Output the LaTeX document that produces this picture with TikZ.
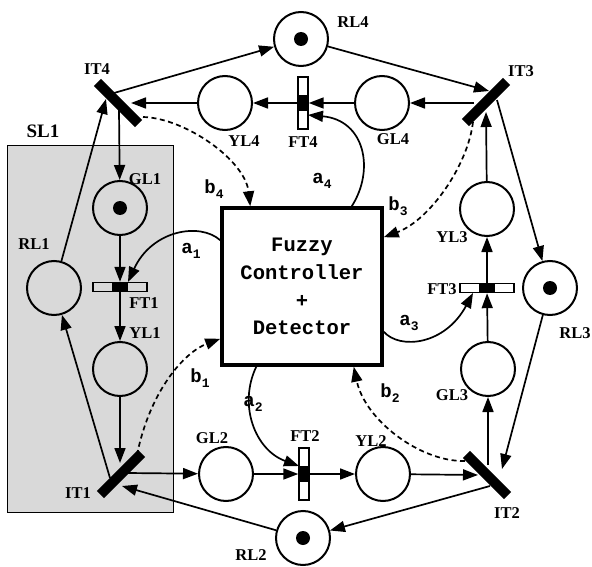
\documentclass[tikz,border=0pt]{standalone}
\usepackage{fontspec}
\setmainfont{Liberation Serif}
\newfontfamily\monofam{Liberation Mono}
\usetikzlibrary{arrows.meta,calc}
\newcommand\subl[1]{\raisebox{-5pt}{\fontsize{13}{13}\selectfont #1}}
\begin{document}
\begin{tikzpicture}[x=1pt,y=-1pt,
  place/.style={circle,draw,line width=2pt,minimum size=54pt,inner sep=0pt},
  itbar/.style={rectangle,fill=black,minimum width=58pt,minimum height=10pt,inner sep=0pt},
  fth/.style={rectangle,draw,line width=1.4pt,minimum width=54pt,minimum height=9pt,inner sep=0pt,
    path picture={\fill (path picture bounding box.center) ++(-8pt,-6pt) rectangle ++(16pt,12pt);}},
  ftv/.style={rectangle,draw,line width=1.4pt,minimum width=10pt,minimum height=52pt,inner sep=0pt,
    path picture={\fill (path picture bounding box.center) ++(-6pt,-8pt) rectangle ++(12pt,16pt);}},
  ctrl/.style={rectangle,draw,line width=3.5pt,minimum width=160pt,minimum height=157pt,align=center,
    font=\monofam\bfseries\fontsize{20.5}{27.7}\selectfont},
  lab/.style={font=\bfseries\fontsize{16.5}{17}\selectfont,inner sep=0pt},
  ab/.style={font=\monofam\bfseries\fontsize{19}{19}\selectfont,inner sep=0pt},
  arr/.style={line width=1.7pt,-{Triangle[length=15pt,width=11pt]}},
  darr/.style={arr,dash pattern=on 5pt off 3.5pt},
  tok/.style={fill=black}
]
\useasboundingbox (0,0) rectangle (592,567);
% shaded subsystem
\draw[fill=black!15,line width=1pt] (7,146) rectangle (173,512);
\node[lab,font=\bfseries\fontsize{19}{19}\selectfont] (lSL1) at (43,131) {SL1};

% places
\node[place] (RL4) at (301,39) {};
\node[place] (YL4) at (225,103) {};
\node[place] (GL4) at (382,103) {};
\node[place] (GL1) at (120,208) {};
\node[place] (RL1) at (54,288) {};
\node[place] (YL1) at (120,369) {};
\node[place] (GL2) at (226,474) {};
\node[place] (YL2) at (383,474) {};
\node[place] (RL2) at (303,538) {};
\node[place] (GL3) at (488,369) {};
\node[place] (YL3) at (487,209) {};
\node[place] (RL3) at (550,288) {};
\foreach \p in {RL4,GL1,RL2,RL3} \fill (\p) circle (7);

% transitions
\node[itbar,rotate=-45] (IT4) at (118,103) {};
\node[itbar,rotate=45] (IT3) at (486,102) {};
\node[itbar,rotate=-45] (IT2) at (487,475) {};
\node[itbar,rotate=45] (IT1) at (121,474) {};
\node[ftv] (FT4) at (303,103) {};
\node[fth] (FT1) at (120,287) {};
\node[fth] (FT3) at (487,288) {};
\node[ftv] (FT2) at (304,474) {};

% controller
\node[ctrl] (ctrl) at (302,286.5) {Fuzzy\\Controller\\+\\Detector};

% labels
\node[lab] (lIT4) at (97,69) {IT4};
\node[lab] (lRL4) at (353,22) {RL4};
\node[lab] (lIT3) at (521,71) {IT3};
\node[lab] (lYL4) at (244,141) {YL4};
\node[lab] (lFT4) at (303,142) {FT4};
\node[lab] (lGL4) at (393,139) {GL4};
\node[lab] (lGL1) at (145,179) {GL1};
\node[lab] (lRL1) at (34,244) {RL1};
\node[lab] (lFT1) at (144,303) {FT1};
\node[lab] (lYL1) at (145,333) {YL1};
\node[lab] (lYL3) at (452,237) {YL3};
\node[lab] (lFT3) at (442,289) {FT3};
\node[lab] (lRL3) at (575,333) {RL3};
\node[lab] (lGL3) at (452,395) {GL3};
\node[lab] (lGL2) at (212,438) {GL2};
\node[lab] (lFT2) at (305,436) {FT2};
\node[lab] (lYL2) at (371,441) {YL2};
\node[lab] (lIT2) at (507,513) {IT2};
\node[lab] (lIT1) at (78,493) {IT1};
\node[lab] (lRL2) at (251,555) {RL2};

\node[ab] (la4) at (322,181) {a\subl{4}};
\node[ab] (lb4) at (214,189) {b\subl{4}};
\node[ab] (lb3) at (398,206) {b\subl{3}};
\node[ab] (la1) at (191,251) {a\subl{1}};
\node[ab] (la3) at (409,323) {a\subl{3}};
\node[ab] (lb1) at (200,378) {b\subl{1}};
\node[ab] (la2) at (253,404) {a\subl{2}};
\node[ab] (lb2) at (390,393) {b\subl{2}};

% net arcs
\draw[arr] ($(IT4)+(-4,-10)$) -- (RL4);
\draw[arr] (RL4) -- ($(IT3)+(3,-11)$);
\draw[arr] ($(IT3)+(-12,1)$) -- (GL4);
\draw[arr] (GL4) -- (FT4);
\draw[arr] (FT4) -- (YL4);
\draw[arr] (YL4) -- ($(IT4)+(13,0)$);
\draw[arr] ($(IT4)+(1,7)$) -- (GL1);
\draw[arr] (GL1) -- (FT1);
\draw[arr] (FT1) -- (YL1);
\draw[arr] (YL1) -- ($(IT1)+(-1,-11)$);
\draw[arr] ($(IT1)+(-11,4)$) -- (RL1);
\draw[arr] (RL1) -- ($(IT4)+(-12,-4)$);
\draw[arr] ($(IT1)+(6,-1)$) -- (GL2);
\draw[arr] (GL2) -- (FT2);
\draw[arr] (FT2) -- (YL2);
\draw[arr] (YL2) -- ($(IT2)+(-9,0)$);
\draw[arr] ($(IT2)+(1,-10)$) -- (GL3);
\draw[arr] (GL3) -- (FT3);
\draw[arr] (FT3) -- (YL3);
\draw[arr] (YL3) -- ($(IT3)+(0,10)$);
\draw[arr] ($(IT3)+(11,-2)$) -- (RL3);
\draw[arr] (RL3) -- ($(IT2)+(15,-6)$);
\draw[arr] ($(IT2)+(3,11)$) -- (RL2);
\draw[arr] (RL2) -- ($(IT1)+(1,12)$);

% controller arcs
\draw[arr] ($(ctrl.north east)+(-32,0)$) .. controls (375,170) and (365,120) .. ($(FT4)+(5,12)$);
\draw[arr] ($(ctrl.north west)+(0,34)$) .. controls (200,222) and (152,230) .. ($(FT1)+(8,-5)$);
\draw[arr] ($(ctrl.south east)+(0,-35)$) .. controls (400,350) and (445,345) .. ($(FT3)+(-14,5)$);
\draw[arr] ($(ctrl.south west)+(36,0)$) .. controls (238,405) and (255,450) .. ($(FT2)+(-5,-8)$);

\draw[darr] ($(IT4)+(25,14)$) .. controls (185,118) and (245,160) .. ($(ctrl.north west)+(30,0)$);
\draw[darr] ($(IT3)+(-13,20)$) .. controls (468,165) and (430,220) .. ($(ctrl.north east)+(0,31)$);
\draw[darr] ($(IT1)+(16,-19)$) .. controls (150,390) and (185,352) .. ($(ctrl.south west)+(0,-28)$);
\draw[darr] ($(IT2)+(-22,-14)$) .. controls (420,462) and (365,420) .. ($(ctrl.south east)+(-30,0)$);
\end{tikzpicture}
\end{document}
